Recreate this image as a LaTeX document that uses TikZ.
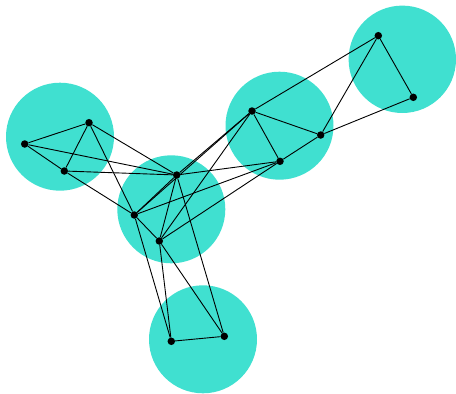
\documentclass[tikz,border=0pt]{standalone}
\definecolor{turq}{RGB}{64,224,208}
\begin{document}
\begin{tikzpicture}[x=1pt,y=-1pt,
  blob/.style={fill=turq,draw=none},
  vtx/.style={circle,fill=black,inner sep=0pt,minimum size=7.5pt},
  edge/.style={draw=black,line width=0.9pt}]
\useasboundingbox (0,0) rectangle (456,394);
\fill[blob] (60,136.7) circle (54);
\fill[blob] (171.3,209.3) circle (54);
\fill[blob] (279.5,125.7) circle (54);
\fill[blob] (402.3,59.3) circle (53.7);
\fill[blob] (203,339.3) circle (54);
\node[vtx] (a) at (89,122.7) {};
\node[vtx] (b) at (24.7,144) {};
\node[vtx] (c) at (64.3,171) {};
\node[vtx] (d) at (176.7,175) {};
\node[vtx] (e) at (134.3,215) {};
\node[vtx] (f) at (159.3,241) {};
\node[vtx] (g) at (252,111) {};
\node[vtx] (h) at (280,161.3) {};
\node[vtx] (i) at (320.7,135) {};
\node[vtx] (j) at (378.3,35.7) {};
\node[vtx] (k) at (413.3,97.3) {};
\node[vtx] (l) at (171.3,341.3) {};
\node[vtx] (m) at (224.3,336.3) {};
\foreach \u/\v in {a/b,b/c,a/c,a/d,b/d,c/d,c/e,a/e,d/e,d/f,e/f,d/g,d/h,e/g,e/h,f/g,f/h,g/h,g/i,h/i,g/j,i/j,j/k,i/k,e/l,f/l,f/m,d/m,l/m}
  \draw[edge] (\u) -- (\v);
\end{tikzpicture}
\end{document}
